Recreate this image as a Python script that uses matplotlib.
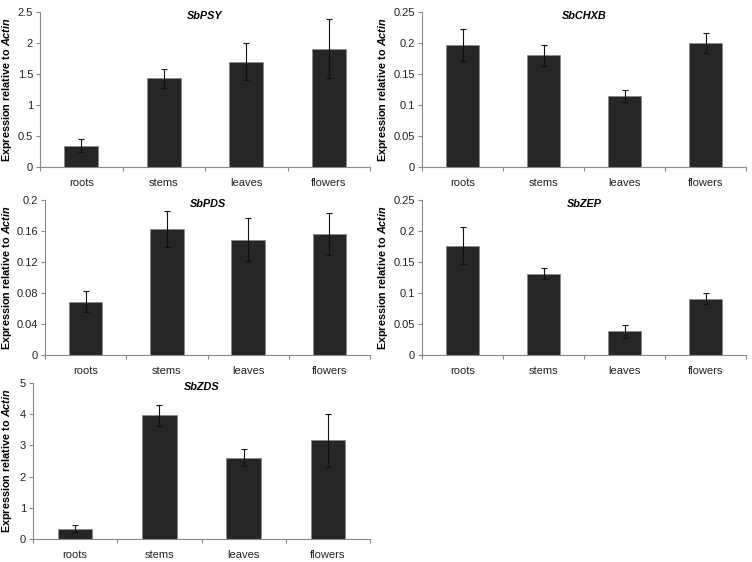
import matplotlib
matplotlib.use("Agg")
import matplotlib.pyplot as plt
from matplotlib.ticker import FuncFormatter

plt.rcParams['font.family'] = ['Liberation Sans', 'DejaVu Sans']
plt.rcParams['mathtext.fontset'] = 'custom'
plt.rcParams['mathtext.it'] = 'Liberation Sans:italic:bold'
plt.rcParams['mathtext.rm'] = 'Liberation Sans:bold'

categories = ["roots", "stems", "leaves", "flowers"]

psy_vals = [0.345, 1.43, 1.70, 1.91]
psy_err = [0.10, 0.15, 0.30, 0.48]
chxb_vals = [0.197, 0.180, 0.1145, 0.2005]
chxb_err = [0.026, 0.017, 0.009, 0.016]
pds_vals = [0.069, 0.1625, 0.149, 0.156]
pds_err = [0.0135, 0.0228, 0.028, 0.027]
zep_vals = [0.176, 0.131, 0.038, 0.091]
zep_err = [0.030, 0.009, 0.010, 0.0095]
zds_vals = [0.33, 3.96, 2.61, 3.16]
zds_err = [0.11, 0.35, 0.26, 0.85]

panels = [
    ("SbPSY", psy_vals, psy_err, 2.5, 0.5, [40, 370, 12, 167], 14),
    ("SbCHXB", chxb_vals, chxb_err, 0.25, 0.05, [422, 746, 12, 167], 390),
    ("SbPDS", pds_vals, pds_err, 0.2, 0.04, [45, 370, 200, 355], 14),
    ("SbZEP", zep_vals, zep_err, 0.25, 0.05, [422, 746, 200, 355], 390),
    ("SbZDS", zds_vals, zds_err, 5, 1, [33, 370, 383, 539], 14),
]

W, H = 752, 562
fig = plt.figure(figsize=(W / 100, H / 100), dpi=100)

for title, vals, errs, ymax, step, (x0, x1, yt, yb), lx in panels:
    ax = fig.add_axes([x0 / W, 1 - yb / H, (x1 - x0) / W, (yb - yt) / H])
    xs = list(range(len(categories)))
    ax.bar(xs, vals, width=0.41, color='#262626', edgecolor='#8a8a8a',
           linewidth=0.6, zorder=2)
    ax.errorbar(xs, vals, yerr=errs, fmt='none', ecolor='#111111',
                elinewidth=0.8, capsize=2.2, capthick=0.8, zorder=3)
    ax.set_xlim(-0.5, len(categories) - 0.5)
    ax.set_ylim(0, ymax)
    n = int(round(ymax / step))
    ax.set_yticks([i * step for i in range(n + 1)])
    ax.yaxis.set_major_formatter(FuncFormatter(lambda v, p: ('%g' % round(v, 4))))
    ax.set_xticks([i - 0.5 for i in range(len(categories) + 1)])
    ax.set_xticklabels([])
    ax.set_xticks(xs, minor=True)
    ax.set_xticklabels(categories, minor=True)
    ax.tick_params(axis='x', which='major', length=3, direction='out', color='#888888')
    ax.tick_params(axis='x', which='minor', length=0, pad=8, labelsize=8, labelcolor='#222222')
    ax.tick_params(axis='y', length=3, direction='out', color='#888888', labelsize=8,
                   labelcolor='#222222', pad=2)
    for s in ['top', 'right']:
        ax.spines[s].set_visible(False)
    for s in ['left', 'bottom']:
        ax.spines[s].set_color('#888888')
        ax.spines[s].set_linewidth(0.8)
    ax.set_ylabel(r"Expression relative to $\mathit{Actin}$", fontsize=7.8,
                  fontweight='bold')
    ax.yaxis.set_label_coords((lx - x0) / (x1 - x0), 0.5)
    ax.text(0.5, 0.972, title, transform=ax.transAxes, ha='center', va='center',
            fontsize=7.8, fontweight='bold', fontstyle='italic')

fig.savefig("out.png", dpi=100)
